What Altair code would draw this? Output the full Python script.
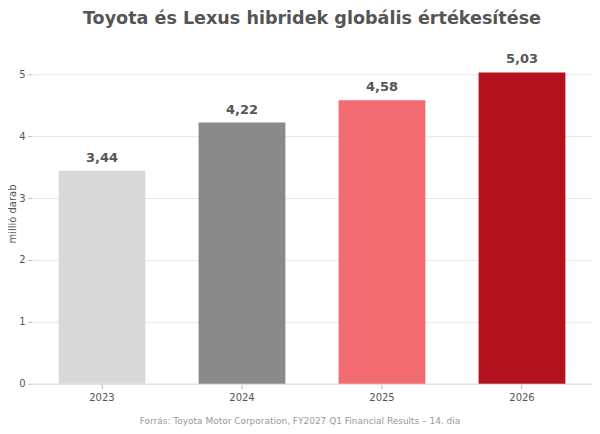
import altair as alt
import pandas as pd

# FY data, million units
years = ["2023", "2024", "2025", "2026"]
sales = [3.44, 4.22, 4.58, 5.03]
colors = ["#d9d9d9", "#8a8a8a", "#f26b70", "#b5121f"]

df = pd.DataFrame({"ev": years, "ertek": sales})
df["cimke"] = df["ertek"].map(lambda v: f"{v:.2f}".replace(".", ","))

FONT = "DejaVu Sans"

base = alt.Chart(df).encode(
    x=alt.X(
        "ev:N",
        scale=alt.Scale(paddingInner=0.38, paddingOuter=0.19),
        axis=alt.Axis(
            title="Forrás: Toyota Motor Corporation, FY2027 Q1 Financial Results – 14. dia",
            titleFont=FONT, titleFontSize=9, titleFontWeight="normal", titleColor="#999999",
            titlePadding=14, titleX=268,
            labelAngle=0, labelFont=FONT, labelFontSize=10, labelColor="#555555",
            labelPadding=4, domainColor="#dddddd", tickColor="#bbbbbb", tickSize=5,
        ),
    ),
    y=alt.Y(
        "ertek:Q",
        scale=alt.Scale(domain=[0, 5.5], nice=False),
        axis=alt.Axis(
            title="millió darab", titleFont=FONT, titleFontSize=10, titleFontWeight="normal",
            titleColor="#555555", titlePadding=1, values=[0, 1, 2, 3, 4, 5],
            labelFont=FONT, labelFontSize=10, labelColor="#555555", labelPadding=3,
            tickSize=4, tickColor="#bbbbbb", domain=False, gridColor="#e8e8e8",
        ),
    ),
)

bars = base.mark_bar().encode(
    color=alt.Color("ev:N", scale=alt.Scale(domain=years, range=colors), legend=None)
)

labels = base.mark_text(
    baseline="bottom", dy=-6, font=FONT, fontSize=13, fontWeight="bold", color="#555555"
).encode(text="cimke:N")

chart = (bars + labels).properties(
    width=561,
    height=341,
    autosize=alt.AutoSizeParams(type="none"),
    padding={"left": 24, "top": 35, "right": 0, "bottom": 42},
    title=alt.TitleParams(
        "Toyota és Lexus hibridek globális értékesítése",
        font=FONT, fontSize=17.6, fontWeight="bold", color="#555555", offset=16,
    ),
).configure_view(stroke=None)

chart.save("out.html", embed_options={"renderer": "svg", "actions": False})
